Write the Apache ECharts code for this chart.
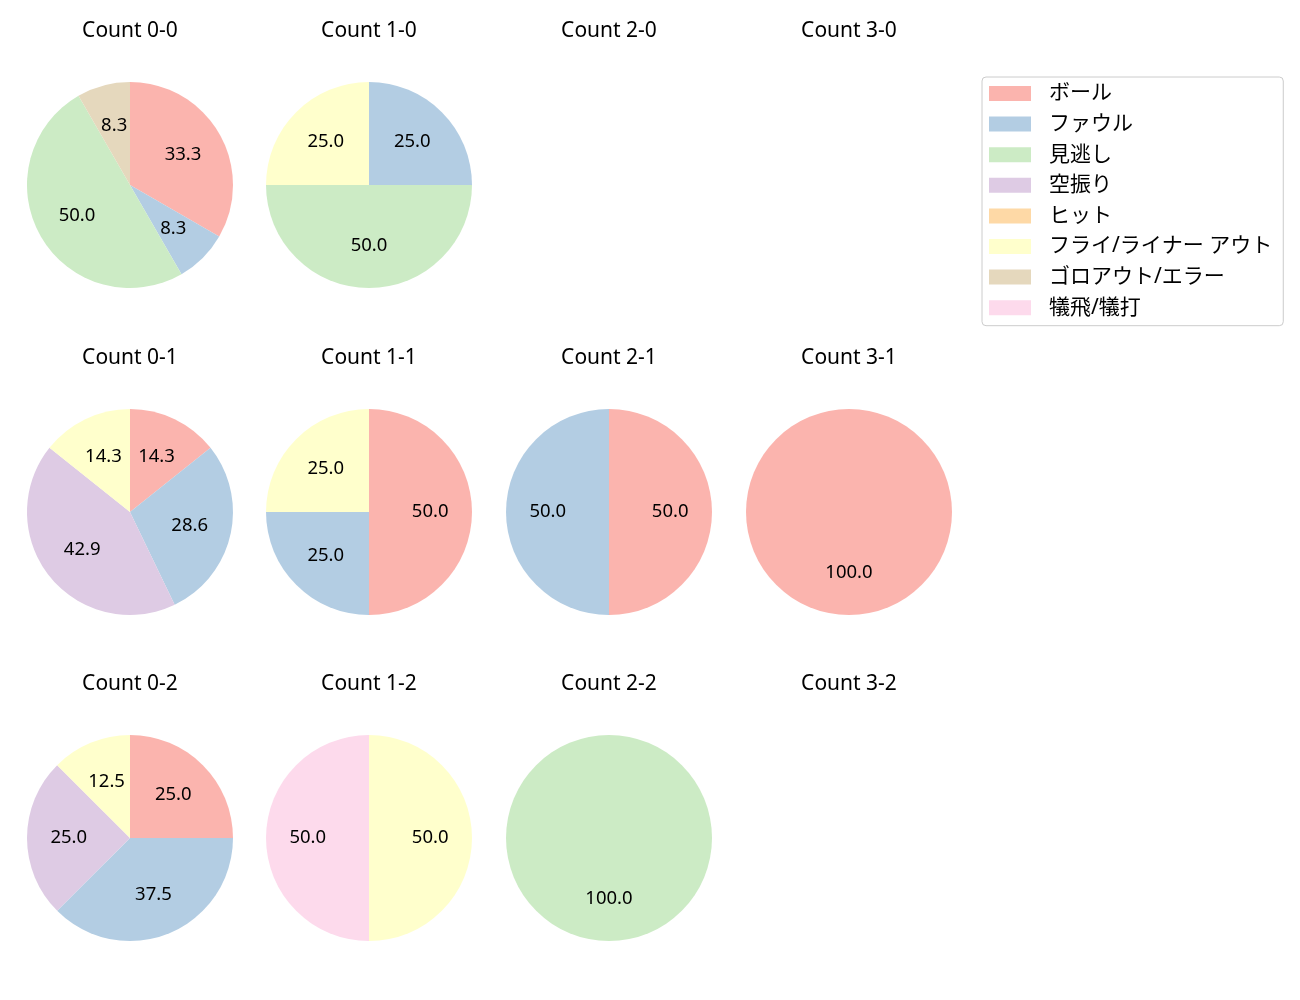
<!DOCTYPE html>
<html>
<head>
<meta charset="utf-8">
<script src="https://cdn.jsdelivr.net/npm/echarts@6/dist/echarts.min.js"></script>
<style>
    html, body { margin: 0; padding: 0; background: #fff; }
    #main { width: 1300px; height: 1000px; }
</style>
</head>
<body>
<div id="main"></div>
<script>
    // 球種結果の分類
    var categories = ['ボール', 'ファウル', '見逃し', '空振り', 'ヒット', 'フライ/ライナー アウト', 'ゴロアウト/エラー', '犠飛/犠打'];
    var colors = ['#fbb4ae', '#b3cde3', '#ccebc5', '#decbe4', '#fed9a6', '#ffffcc', '#e5d8bd', '#fddaec'];

    // カウント別の件数 (categories と同じ順)
    var countNames = ['0-0', '1-0', '2-0', '3-0', '0-1', '1-1', '2-1', '3-1', '0-2', '1-2', '2-2', '3-2'];
    var c00 = [4, 1, 6, 0, 0, 0, 1, 0];
    var c10 = [0, 1, 2, 0, 0, 1, 0, 0];
    var c20 = [];
    var c30 = [];
    var c01 = [1, 2, 0, 3, 0, 1, 0, 0];
    var c11 = [2, 1, 0, 0, 0, 1, 0, 0];
    var c21 = [1, 1, 0, 0, 0, 0, 0, 0];
    var c31 = [1, 0, 0, 0, 0, 0, 0, 0];
    var c02 = [2, 3, 0, 2, 0, 1, 0, 0];
    var c12 = [0, 0, 0, 0, 0, 1, 0, 1];
    var c22 = [0, 0, 1, 0, 0, 0, 0, 0];
    var c32 = [];
    var counts = [c00, c10, c20, c30, c01, c11, c21, c31, c02, c12, c22, c32];

    var colX = [130, 369, 609, 849];
    var rowY = [185, 512, 838];
    var R = 103;
    var FONT = '"Noto Sans", "Noto Sans CJK JP", sans-serif';

    var titles = [];
    var pieSeries = [];
    var labelSeries = [];

    counts.forEach(function (vals, i) {
        var cx = colX[i % 4], cy = rowY[Math.floor(i / 4)];
        titles.push({
            text: 'Count ' + countNames[i],
            left: cx, top: cy - 164,
            padding: 0,
            textAlign: 'center',
            textStyle: { fontFamily: FONT, fontSize: 21, fontWeight: 'normal', color: '#000' }
        });
        if (!vals.length) return;
        var total = vals.reduce(function (a, b) { return a + b; }, 0);
        pieSeries.push({
            type: 'pie',
            center: [cx, cy],
            radius: [0, R],
            startAngle: 90,
            clockwise: true,
            silent: true,
            label: { show: false },
            labelLine: { show: false },
            data: vals.map(function (v, k) {
                return { name: categories[k], value: v, itemStyle: { color: colors[k] } };
            })
        });
        // ラベル用 (透明な大きめの円で 0.6R 付近に表示)
        labelSeries.push({
            type: 'pie',
            center: [cx, cy],
            radius: [0, R * 1.13],
            startAngle: 90,
            clockwise: true,
            silent: true,
            itemStyle: { color: 'rgba(0,0,0,0)' },
            label: {
                show: true,
                position: 'inside',
                fontFamily: FONT,
                fontSize: 18.5,
                color: '#000',
                formatter: function (p) { return (p.value / total * 100).toFixed(1); }
            },
            labelLine: { show: false },
            data: vals.map(function (v, k) { return { name: categories[k], value: v }; })
                .filter(function (d) { return d.value > 0; })
        });
    });

    var myChart = echarts.init(document.getElementById('main'));
    var option = {
        animation: false,
        backgroundColor: '#fff',
        title: titles,
        legend: {
            orient: 'vertical',
            left: 982,
            top: 77,
            data: categories,
            itemWidth: 42,
            itemHeight: 15,
            itemGap: 9.6,
            padding: [6, 11, 7.5, 7],
            borderColor: '#cccccc',
            borderWidth: 1,
            borderRadius: 4,
            backgroundColor: '#fff',
            selectedMode: false,
            icon: 'rect',
            textStyle: {
                fontFamily: FONT,
                fontSize: 21,
                lineHeight: 21,
                color: '#000',
                padding: [0, 0, 0, 13]
            }
        },
        series: pieSeries.concat(labelSeries)
    };
    option && myChart.setOption(option);
</script>
</body>
</html>
